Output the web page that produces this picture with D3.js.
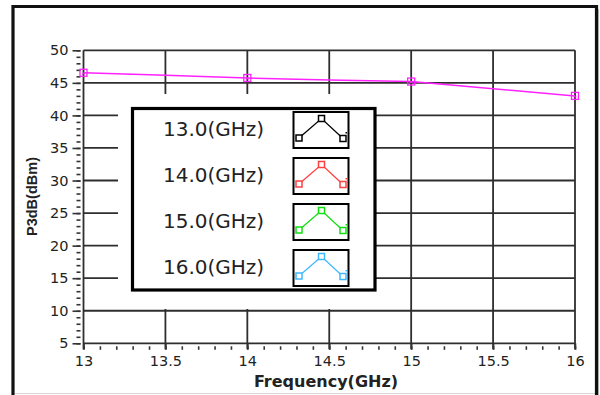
<!DOCTYPE html>
<html>
<head>
<meta charset="utf-8">
<script src="https://cdn.jsdelivr.net/npm/d3@7"></script>
<style>
  html, body { margin: 0; padding: 0; background: #fff; }
  svg { display: block; }
  text { font-family: "DejaVu Sans", sans-serif; fill: #222; }
</style>
</head>
<body>
<svg id="chart" width="600" height="395"></svg>
<script>
// P3dB versus frequency
const freq = [13, 13.5, 14, 14.5, 15, 15.5, 16];
const p3db = [46.55, 46.15, 45.75, 45.45, 45.2, 44.1, 43.0];
const markerFreq = [13, 14, 15, 16];

const yTicks = [5, 10, 15, 20, 25, 30, 35, 40, 45, 50];
const xTicks = [13, 13.5, 14, 14.5, 15, 15.5, 16];
const xTickLabels = ["13", "13.5", "14", "14.5", "15", "15.5", "16"];

const legendLabels = ["13.0(GHz)", "14.0(GHz)", "15.0(GHz)", "16.0(GHz)"];
const legendColors = ["#000000", "#ff4040", "#10e010", "#40b8ff"];

const svg = d3.select("#chart");
const W = 600, H = 395;

const x = d3.scaleLinear().domain([13, 16]).range([83.5, 575]);
const y = d3.scaleLinear().domain([5, 50]).range([343.3, 50.3]);

// outer frame
svg.append("line").attr("x1", 15).attr("x2", 596).attr("y1", 393.5).attr("y2", 393.5)
  .attr("stroke", "#d8d8d8").attr("stroke-width", 1);
svg.append("line").attr("x1", 598.5).attr("x2", 598.5).attr("y1", 9).attr("y2", H)
  .attr("stroke", "#bdbdbd").attr("stroke-width", 1);
svg.append("path")
  .attr("d", `M13,${H + 5} L13,6.5 L596.5,6.5 L596.5,${H + 5}`)
  .attr("fill", "none").attr("stroke", "#111").attr("stroke-width", 3.2);

// grid
const grid = svg.append("g").attr("stroke", "#2e2e2e").attr("stroke-width", 1.8);
grid.selectAll("line.h").data(yTicks).join("line").attr("class", "h")
  .attr("x1", x(13)).attr("x2", x(16))
  .attr("y1", d => y(d)).attr("y2", d => y(d));
grid.selectAll("line.v").data(xTicks).join("line").attr("class", "v")
  .attr("x1", d => x(d)).attr("x2", d => x(d))
  .attr("y1", y(50)).attr("y2", y(5) + 6);

// y axis: minor and major ticks
const yMinor = d3.range(5, 50.5, 1);
const yMinorAxis = d3.axisLeft(y).tickValues(yMinor).tickSize(4).tickFormat("");
const gyMinor = svg.append("g").attr("transform", "translate(80.5,0)").call(yMinorAxis);
gyMinor.select(".domain").remove();
gyMinor.selectAll(".tick line").attr("stroke", "#333").attr("stroke-width", 1.6);

const yAxis = d3.axisLeft(y).tickValues(yTicks).tickSize(8).tickPadding(4).tickFormat(d3.format("d"));
const gy = svg.append("g").attr("transform", "translate(80.5,0)").call(yAxis);
gy.select(".domain").remove();
gy.selectAll(".tick line").attr("stroke", "#333").attr("stroke-width", 1.6);
gy.selectAll(".tick text").style("font-size", "14.5px").style("font-family", "DejaVu Sans").attr("fill", "#241a38");

// x axis: minor and major ticks
const xMinor = d3.range(13, 16.001, 0.1).map(v => +v.toFixed(1));
const xMinorAxis = d3.axisBottom(x).tickValues(xMinor).tickSize(3.5).tickFormat("");
const gxMinor = svg.append("g").attr("transform", `translate(0,${y(5) + 3})`).call(xMinorAxis);
gxMinor.select(".domain").remove();
gxMinor.selectAll(".tick line").attr("stroke", "#333").attr("stroke-width", 1.6);

const xAxis = d3.axisBottom(x).tickValues(xTicks).tickSize(6).tickPadding(6)
  .tickFormat((d, i) => xTickLabels[i]);
const gx = svg.append("g").attr("transform", `translate(0,${y(5)})`).call(xAxis);
gx.select(".domain").remove();
gx.selectAll(".tick line").attr("stroke", "#333").attr("stroke-width", 1.6);
gx.selectAll(".tick text").style("font-size", "14.5px").style("font-family", "DejaVu Sans").attr("fill", "#241a38");

// axis titles
svg.append("text").attr("x", 326).attr("y", 386.5).attr("text-anchor", "middle")
  .style("font-weight", "bold").style("font-size", "16px").attr("fill", "#111")
  .text("Frequency(GHz)");
svg.append("text").attr("transform", "translate(37,196.5) rotate(-90)").attr("text-anchor", "middle")
  .style("font-family", "Liberation Sans, sans-serif")
  .style("font-weight", "bold").style("font-size", "14.5px").attr("fill", "#111")
  .text("P3dB(dBm)");

// data line
const pts = freq.map((f, i) => ({ f, v: p3db[i] }));
const line = d3.line().x(d => x(d.f)).y(d => y(d.v));
svg.append("path").datum(pts).attr("d", line)
  .attr("fill", "none").attr("stroke", "#ff22ff").attr("stroke-width", 1.5);

const mk = markerFreq.map(f => ({ f, v: p3db[freq.indexOf(f)] }));
svg.selectAll("rect.mk").data(mk).join("rect").attr("class", "mk")
  .attr("x", d => x(d.f) - 3.5).attr("y", d => y(d.v) - 3.5)
  .attr("width", 7).attr("height", 7)
  .attr("fill", "none").attr("stroke", "#ff22ff").attr("stroke-width", 1.3);
svg.selectAll("line.mk").data(mk).join("line").attr("class", "mk")
  .attr("x1", d => x(d.f) - 1.5).attr("x2", d => x(d.f) + 1.5)
  .attr("y1", d => y(d.v) + 1).attr("y2", d => y(d.v) + 1)
  .attr("stroke", "#ff22ff").attr("stroke-width", 1);

// legend
const lg = svg.append("g");
lg.append("rect").attr("x", 118).attr("y", 94).attr("width", 258).attr("height", 215).attr("fill", "#fff");
lg.append("rect").attr("x", 132.5).attr("y", 108.5).attr("width", 242.5).attr("height", 181.5)
  .attr("fill", "#fff").attr("stroke", "#000").attr("stroke-width", 3.2);

const rowY = i => 128.5 + i * 46;
const entries = lg.selectAll("g.entry").data(legendLabels).join("g").attr("class", "entry");
entries.append("text").attr("x", 163).attr("y", (d, i) => rowY(i)).attr("dy", "0.36em")
  .style("font-size", "20px").attr("fill", "#221a36").text(d => d);

const sym = entries.append("g").attr("transform", (d, i) => `translate(293,${111.5 + i * 46})`);
sym.append("rect").attr("x", 0.5).attr("y", 0.5).attr("width", 55).attr("height", 36)
  .attr("fill", "#fff").attr("stroke", "#000").attr("stroke-width", 2);
const symPts = [[6, 26.5], [28.5, 7], [50, 27]];
sym.append("polyline").attr("points", symPts.map(p => p.join(",")).join(" "))
  .attr("fill", "none").attr("stroke", (d, i) => legendColors[i]).attr("stroke-width", 1.3);
symPts.forEach(p => {
  sym.append("rect").attr("x", p[0] - 3).attr("y", p[1] - 3).attr("width", 6).attr("height", 6)
    .attr("fill", "#fff").attr("stroke", (d, i) => legendColors[i]).attr("stroke-width", 1.5);
});
sym.append("rect").attr("x", 52.5).attr("y", 20.5).attr("width", 1.5).attr("height", 1.5)
  .attr("fill", (d, i) => legendColors[i]);
</script>
</body>
</html>
